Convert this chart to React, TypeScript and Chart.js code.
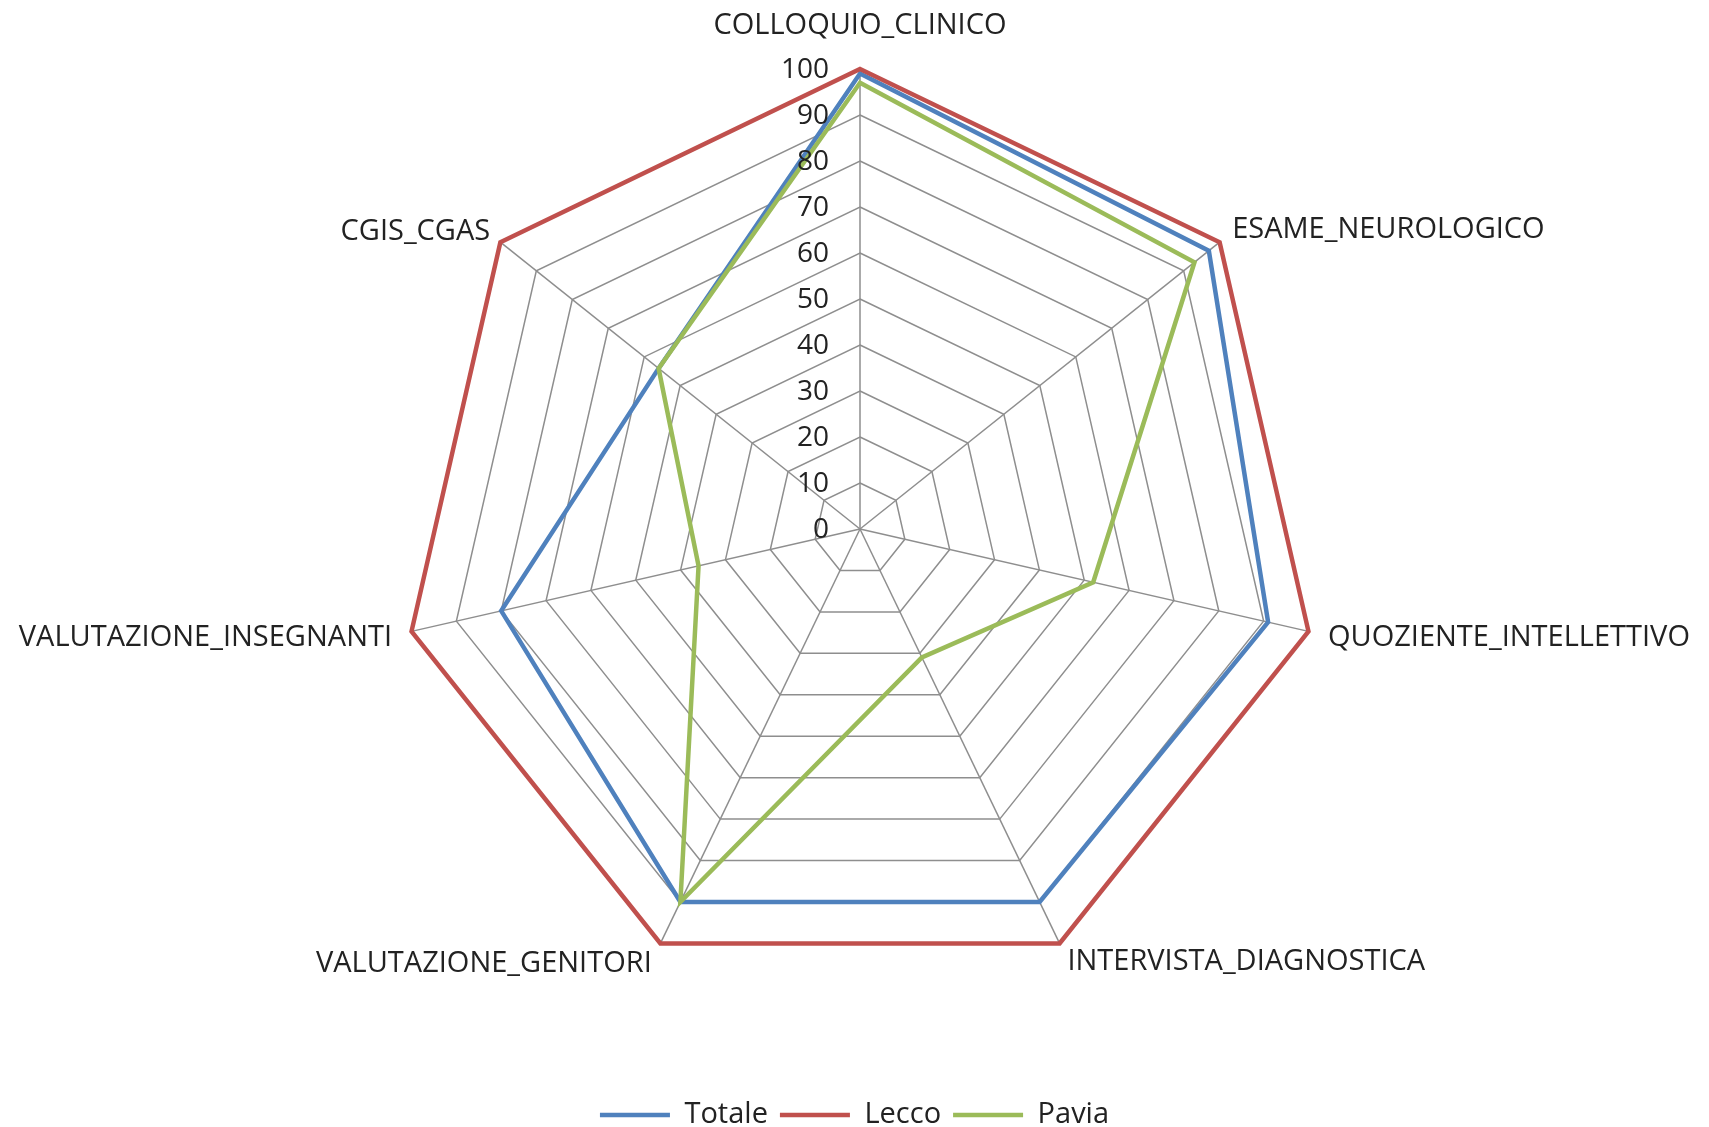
import { useEffect, useRef } from "react";
import { Chart, registerables } from "chart.js";

Chart.register(...registerables);

const categories = [
  "COLLOQUIO_CLINICO",
  "ESAME_NEUROLOGICO",
  "QUOZIENTE_INTELLETTIVO",
  "INTERVISTA_DIAGNOSTICA",
  "VALUTAZIONE_GENITORI",
  "VALUTAZIONE_INSEGNANTI",
  "CGIS_CGAS",
];
const seriesNames = ["Totale", "Lecco", "Pavia"];
const totale = [99, 97, 91, 90, 90, 80, 56];
const lecco = [100, 100, 100, 100, 100, 100, 100];
const pavia = [97, 93, 52, 31, 90, 36, 56];
const tickMin = 0;
const tickMax = 100;
const tickStep = 10;

const FONT = '"Open Sans", "Noto Sans", sans-serif';
const TEXT = "#222222";
const GRID = "#8e8e8e";
const colors = ["#4F81BD", "#C0504D", "#9BBB59"];
const labelPads = [41, 16, 20, 18, 20, 20, 13];

const tickLabelPlugin = {
  id: "sideTickLabels",
  afterDatasetsDraw(chart: any) {
    const scale = chart.scales.r;
    const ctx = chart.ctx;
    ctx.save();
    ctx.font = `28px ${FONT}`;
    ctx.fillStyle = TEXT;
    ctx.textAlign = "right";
    ctx.textBaseline = "middle";
    scale.ticks.forEach((t: any) => {
      const p = scale.getPointPositionForValue(0, t.value);
      ctx.fillText(String(t.label), p.x - 31, p.y + 1);
    });
    ctx.restore();
  },
};

export default function App() {
  const ref = useRef<HTMLCanvasElement | null>(null);

  useEffect(() => {
    if (!ref.current) return;
    const values = [totale, lecco, pavia];
    const chart = new Chart(ref.current, {
      type: "radar",
      data: {
        labels: categories,
        datasets: seriesNames.map((name, i) => ({
          label: name,
          data: values[i],
          borderColor: colors[i],
          backgroundColor: colors[i],
          borderWidth: 4.5,
          pointRadius: 0,
          pointHoverRadius: 0,
          fill: false,
          tension: 0,
          order: 3 - i,
        })),
      },
      options: {
        responsive: true,
        maintainAspectRatio: false,
        animation: false,
        layout: { padding: { top: 2, bottom: -12.5, left: 0, right: 0 } },
        plugins: {
          tooltip: { enabled: false },
          legend: {
            position: "bottom",
            title: {
              display: true,
              text: "",
              font: { size: 10, lineHeight: 1 },
              padding: { top: 66.5, bottom: 0 },
            },
            labels: {
              usePointStyle: true,
              pointStyle: "line",
              pointStyleWidth: 70,
              padding: 12,
              color: TEXT,
              font: { family: FONT, size: 29 },
              sort: (a: any, b: any) => a.datasetIndex - b.datasetIndex,
            },
          },
        },
        scales: {
          r: {
            min: tickMin,
            max: tickMax,
            startAngle: 0,
            ticks: { stepSize: tickStep, display: false },
            grid: { color: GRID, lineWidth: 1.5, circular: false },
            angleLines: { color: GRID, lineWidth: 1.5 },
            pointLabels: {
              color: TEXT,
              font: { family: FONT, size: 29, lineHeight: "4px" },
              padding: (ctx: any) => labelPads[ctx.index],
            },
          },
        },
      },
      plugins: [tickLabelPlugin],
    });
    return () => chart.destroy();
  }, []);

  return (
    <div style={{ position: "fixed", left: 0, top: 0, width: 1709, height: 1127, background: "#fff" }}>
      <canvas ref={ref} />
    </div>
  );
}
